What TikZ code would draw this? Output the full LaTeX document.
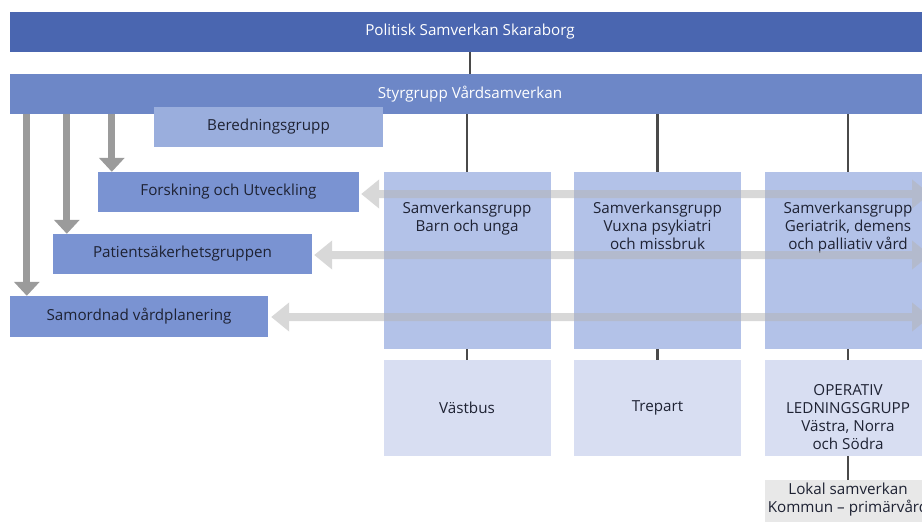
\documentclass[tikz,border=0pt]{standalone}
\usepackage{fontspec}
\setmainfont{Open Sans}
\usetikzlibrary{arrows.meta,calc}
\definecolor{cPol}{HTML}{4A66B0}
\definecolor{cStyr}{HTML}{6D87C7}
\definecolor{cBered}{HTML}{9AAEDD}
\definecolor{cSide}{HTML}{7A93D2}
\definecolor{cCol}{HTML}{B3C2E8}
\definecolor{cBot}{HTML}{D8DEF2}
\definecolor{cLok}{HTML}{E8E8E8}
\definecolor{txt}{HTML}{1E2233}
\definecolor{conn}{HTML}{4A4A4A}
\definecolor{vgray}{HTML}{9B9B9B}
\definecolor{hgray}{HTML}{B3B3B3}
\begin{document}
\begin{tikzpicture}[x=1pt,y=-1pt,
  box/.style={draw=none, inner sep=0pt, align=center, text=txt,
    font=\fontsize{15.2}{17.5}\selectfont},
  wbox/.style={box, text=white},
  lab/.style={inner sep=0pt, align=center, text=txt,
    font=\fontsize{15.2}{17.8}\selectfont},
  darkconn/.style={draw=conn, line width=2.8pt},
  varrow/.style={draw=vgray, line width=7pt, -{Triangle[length=14pt,width=25pt]}},
  harrow/.style={draw=hgray, line width=8pt,
    {Triangle[length=18pt,width=28pt]}-{Triangle[length=18pt,width=28pt]}},
]
\useasboundingbox (0,0) rectangle (922,522);
\clip (0,0) rectangle (922,522);
\fill[white] (0,0) rectangle (922,522);

% top bars
\node[wbox, fill=cPol, minimum width=920pt, minimum height=40pt] (pol) at (470,32) {Politisk Samverkan Skaraborg};
\node[wbox, fill=cStyr, minimum width=920pt, minimum height=40pt] (styr) at (470,94) {Styrgrupp Vårdsamverkan};
\draw[darkconn] (pol.south) -- (styr.north);

% columns
\node[box, fill=cCol, minimum width=167pt, minimum height=177pt,
  label={[lab, anchor=north, yshift=-30pt]north:Samverkansgrupp\\Barn och unga}] (c1) at (467,260.5) {};
\node[box, fill=cCol, minimum width=167pt, minimum height=177pt,
  label={[lab, anchor=north, yshift=-30pt]north:Samverkansgrupp\\Vuxna psykiatri\\och missbruk}] (c2) at (657.5,260.5) {};
\node[box, fill=cCol, minimum width=167pt, minimum height=177pt,
  label={[lab, anchor=north, yshift=-30pt]north:Samverkansgrupp\\Geriatrik, demens\\och palliativ vård}] (c3) at (848,260.5) {};
\draw[darkconn] (styr.south -| c1.north) -- (c1.north);
\draw[darkconn] (styr.south -| c2.north) -- (c2.north);
\draw[darkconn] (styr.south -| c3.north) -- (c3.north);

% bottom boxes
\node[box, fill=cBot, minimum width=167pt, minimum height=96pt] (b1) at (467,408) {Västbus};
\node[box, fill=cBot, minimum width=167pt, minimum height=96pt] (b2) at (657.5,408) {Trepart};
\node[box, fill=cBot, minimum width=167pt, minimum height=96pt,
  label={[lab, anchor=center, yshift=-9pt]center:OPERATIV\\LEDNINGSGRUPP\\Västra, Norra\\och Södra}] (b3) at (848,408) {};
\draw[darkconn] (c1.south) -- (b1.north);
\draw[darkconn] (c2.south) -- (b2.north);
\draw[darkconn] (c3.south) -- (b3.north);
\node[box, fill=cLok, minimum width=167pt, minimum height=46pt,
  label={[lab, anchor=north, yshift=-3pt]north:Lokal samverkan\\Kommun – primärvård}] (lok) at (848,503) {};
\draw[darkconn] (b3.south) -- (lok.north);

% left boxes
\node[box, fill=cBered, minimum width=229pt, minimum height=40pt] (bered) at (268.5,127) {Beredningsgrupp};
\node[box, fill=cSide, minimum width=261pt, minimum height=40pt] (forsk) at (228.5,192) {Forskning och Utveckling};
\node[box, fill=cSide, minimum width=259pt, minimum height=40pt] (pat) at (182.5,254) {Patientsäkerhetsgruppen};
\node[box, fill=cSide, minimum width=258pt, minimum height=41pt] (samord) at (139,316.5) {Samordnad vårdplanering};

% vertical grey arrows
\coordinate (a1) at ($(samord.north west)+(17,0)$);
\coordinate (a2) at ($(pat.north west)+(14,0)$);
\coordinate (a3) at ($(forsk.north west)+(14,0)$);
\draw[varrow] (styr.south -| a1) -- (a1);
\draw[varrow] (styr.south -| a2) -- (a2);
\draw[varrow] (styr.south -| a3) -- (a3);

% horizontal double arrows
\coordinate (r1) at (930,194);
\coordinate (r2) at (930,255);
\coordinate (r3) at (930,317);
\begin{scope}[transparency group, opacity=0.5]
\draw[harrow] ($(forsk.east)+(2,2)$) -- (r1);
\end{scope}
\begin{scope}[transparency group, opacity=0.5]
\draw[harrow] ($(pat.east)+(2,1)$) -- (r2);
\end{scope}
\begin{scope}[transparency group, opacity=0.5]
\draw[harrow] ($(samord.east)+(3,0.5)$) -- (r3);
\end{scope}
\end{tikzpicture}
\end{document}
